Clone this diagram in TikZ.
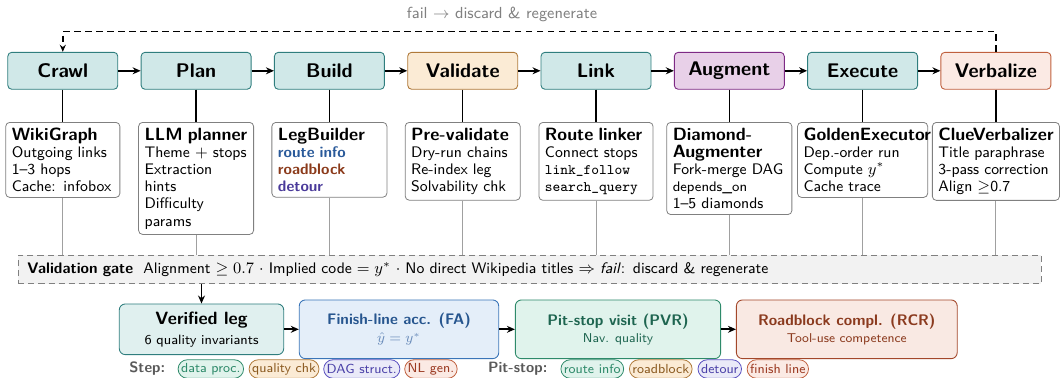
\documentclass[tikz,border=0pt]{standalone}
\usetikzlibrary{arrows.meta}
\definecolor{tealF}{HTML}{D0E8E8}
\definecolor{tealB}{HTML}{2F7E7E}
\definecolor{orF}{HTML}{FBEBD5}
\definecolor{orB}{HTML}{B07A3A}
\definecolor{orT}{HTML}{8B5A20}
\definecolor{puF}{HTML}{E8D0E8}
\definecolor{puB}{HTML}{7E2A85}
\definecolor{rdF}{HTML}{FBEAE4}
\definecolor{rdB}{HTML}{C0603E}
\definecolor{rdT}{HTML}{9B3A22}
\definecolor{vlF}{HTML}{E0F0EF}
\definecolor{faF}{HTML}{E4EEF9}
\definecolor{faB}{HTML}{3A75B8}
\definecolor{faT}{HTML}{27568F}
\definecolor{faM}{HTML}{6A8CBA}
\definecolor{pvF}{HTML}{E0F3EC}
\definecolor{pvB}{HTML}{2E8A6A}
\definecolor{pvT}{HTML}{1E6550}
\definecolor{rcF}{HTML}{F9E9E3}
\definecolor{rcB}{HTML}{A3472A}
\definecolor{rcT}{HTML}{8B3A1E}
\definecolor{inF}{HTML}{EAEAF8}
\definecolor{inB}{HTML}{5A50C0}
\definecolor{inT}{HTML}{4A40A8}
\definecolor{riT}{HTML}{2A5A9A}
\definecolor{rbT}{HTML}{8B3A1A}
\definecolor{dtT}{HTML}{4A3A9A}
\definecolor{gateF}{HTML}{F2F2F2}
\definecolor{lineG}{HTML}{A0A0A0}
\newcommand\myfs[2]{\fontsize{#1}{#2}\selectfont}
\newcommand\dt[1]{{\bfseries\myfs{10}{11}#1}}
\tikzset{
  stagebox/.style={rounded corners=2.25pt, minimum width=61.875pt, minimum height=20.8pt,
    line width=0.5pt, inner sep=0pt, font=\sffamily\bfseries\myfs{11.1}{13}},
  detail/.style={draw=gray, rounded corners=2.25pt, fill=white, align=left, anchor=north,
    inner xsep=3.4pt, inner ysep=3pt, line width=0.45pt, font=\sffamily\myfs{8.6}{9.68}},
  arr/.style={line width=1pt, -{Stealth[length=4.5pt,width=3.9pt]}},
  blk/.style={line width=0.7pt},
  gry/.style={line width=0.5pt, draw=lineG},
  res/.style={rounded corners=3.4pt, line width=0.5pt, align=center, inner sep=0pt,
    font=\sffamily\myfs{8}{9}},
  pill/.style={rounded corners=5.2pt, line width=0.45pt, inner xsep=1.7pt, inner ysep=0pt,
    minimum height=10.4pt, anchor=west, font=\sffamily\myfs{7.4}{8.5}},
}
\begin{document}
\begin{tikzpicture}[x=0.5625pt,y=-0.5625pt,font=\sffamily]
\useasboundingbox (0,0) rectangle (1060,377);
% stages
\node[stagebox, fill=tealF, draw=tealB] (crawl) at (62.8,70.8) {Crawl};
\node[stagebox, fill=tealF, draw=tealB] (plan)  at (196.1,70.8) {Plan};
\node[stagebox, fill=tealF, draw=tealB] (build) at (329.4,70.8) {Build};
\node[stagebox, fill=orF, draw=orB]     (valid) at (462.7,70.8) {Validate};
\node[stagebox, fill=tealF, draw=tealB] (link)  at (596.0,70.8) {Link};
\node[stagebox, fill=puF, draw=puB]     (augm)  at (729.3,70.8) {Augment};
\node[stagebox, fill=tealF, draw=tealB] (exec)  at (862.6,70.8) {Execute};
\node[stagebox, fill=rdF, draw=rdB]     (verb)  at (995.9,70.8) {Verbalize};
\draw[arr] (crawl) -- (plan);
\draw[arr] (plan) -- (build);
\draw[arr] (build) -- (valid);
\draw[arr] (valid) -- (link);
\draw[arr] (link) -- (augm);
\draw[arr] (augm) -- (exec);
\draw[arr] (exec) -- (verb);
% feedback
\draw[line width=0.85pt, dash pattern=on 3.66pt off 2.53pt, -{Stealth[length=4pt,width=3.4pt]}]
  (verb.north) -- ++(0,-20.3) coordinate (fbr) -| (crawl.north);
\node[text=gray, font=\sffamily\myfs{9}{10}] (fbl) at (502,14) {fail $\rightarrow$ discard \& regenerate};
% details
\node[detail, text width=57.4pt] (d1) at (62.8,122) {\dt{WikiGraph}\\Outgoing links\\1--3 hops\\Cache: infobox};
\node[detail, text width=57.9pt] (d2) at (196.1,122) {\dt{LLM planner}\\\mbox{Theme $+$ stops}\\Extraction\\hints\\Difficulty\\params};
\node[detail, text width=57.9pt] (d3) at (329.4,122) {\dt{LegBuilder}\\{\bfseries\color{riT}route info}\\{\bfseries\color{rbT}roadblock}\\{\bfseries\color{dtT}detour}};
\node[detail, text width=57.9pt] (d4) at (462.7,122) {\dt{Pre-validate}\\Dry-run chains\\Re-index leg\\Solvability chk};
\node[detail, text width=57.4pt] (d5) at (596.0,122) {\dt{Route linker}\\Connect stops\\{\ttfamily\myfs{8.2}{9.68}link\_follow}\\{\ttfamily\myfs{8.2}{9.68}search\_query}};
\node[detail, text width=63.6pt] (d6) at (729.3,122) {\dt{Diamond-}\\\dt{Augmenter}\\Fork-merge DAG\\{\myfs{7.8}{9}depends\_on}\\1--5 diamonds};
\node[detail, text width=66.4pt] (d7) at (862.6,122) {\dt{GoldenExecutor}\\Dep.-order run\\Compute $y^*$\\Cache trace};
\node[detail, text width=64.7pt] (d8) at (995.9,122) {\dt{ClueVerbalizer}\\Title paraphrase\\3-pass correction\\Align $\geq$0.7};
\foreach \s/\d in {crawl/d1,plan/d2,build/d3,valid/d4,link/d5,augm/d6,exec/d7,verb/d8}
  \draw[blk] (\s.south) -- (\d.north);
% gate
\node[draw=gray, fill=gateF, dash pattern=on 3.4pt off 2.25pt, line width=0.45pt,
  anchor=north west, minimum height=15.9pt, text width=565.3pt, inner xsep=5.06pt, inner ysep=0pt,
  align=left, font=\sffamily\myfs{8.6}{10}] (gate) at (18,255)
  {\textbf{Validation gate}\ \ Alignment $\geq 0.7$ $\cdot$ Implied code $= y^*$ $\cdot$ No direct Wikipedia titles $\Rightarrow$ \textit{fail}: discard \& regenerate};
\foreach \d in {d1,d2,d3,d4,d5,d6,d7,d8}
  \draw[gry] (\d.south) -- (\d.south |- gate.north);
% results
\node[res, fill=vlF, draw=tealB, minimum width=92.5pt, minimum height=28.5pt] (ver) at (201.5,329.3)
  {{\bfseries\myfs{10}{11}Verified leg}\\[2.2pt]{\myfs{7.6}{9}6 quality invariants}};
\node[res, fill=faF, draw=faB, minimum width=112.2pt, minimum height=33pt] (fa) at (399,329.3)
  {{\bfseries\myfs{8.6}{10}\color{faT}Finish-line acc. (FA)}\\[1.2pt]{\myfs{7.8}{9}\color{faM}$\hat y = y^*$}};
\node[res, fill=pvF, draw=pvB, minimum width=115.5pt, minimum height=33pt] (pvr) at (618,329.3)
  {{\bfseries\myfs{8.6}{10}\color{pvT}Pit-stop visit (PVR)}\\[0.3pt]{\myfs{7.2}{8.5}\color{pvT}Nav. quality}};
\node[res, fill=rcF, draw=rcB, minimum width=124.2pt, minimum height=33pt] (rcr) at (846.8,329.3)
  {{\bfseries\myfs{8.6}{10}\color{rcT}Roadblock compl. (RCR)}\\[0.3pt]{\myfs{7.2}{8.5}\color{rcT}Tool-use competence}};
\draw[arr] (gate.south -| ver.north) -- (ver.north);
\draw[arr] (ver) -- (fa);
\draw[arr] (fa) -- (pvr);
\draw[arr] (pvr) -- (rcr);
% legend
\node[anchor=west, inner sep=0pt, text=black!65, font=\sffamily\bfseries\myfs{8.4}{9}] (stepl) at (129,369) {Step:};
\node[pill, fill=pvF, draw=pvB, text=pvB] (p1) at (177.7,369) {data proc.};
\node[pill, fill=orF, draw=orB, text=orT] (p2) at (248.7,369) {quality chk};
\node[pill, fill=inF, draw=inB, text=inT] (p3) at (323.3,369) {DAG struct.};
\node[pill, fill=rdF, draw=rdB, text=rdT] (p4) at (404.3,369) {NL gen.};
\node[anchor=west, inner sep=0pt, text=black!65, font=\sffamily\bfseries\myfs{8.4}{9}] (pitl) at (487.7,369) {Pit-stop:};
\node[pill, fill=pvF, draw=pvB, text=pvB] (q1) at (560.5,369) {route info};
\node[pill, fill=orF, draw=orB, text=orT] (q2) at (629,369) {roadblock};
\node[pill, fill=inF, draw=inB, text=inT] (q3) at (697.6,369) {detour};
\node[pill, fill=rdF, draw=rdB, text=rdT] (q4) at (746.7,369) {finish line};
\end{tikzpicture}
\end{document}
